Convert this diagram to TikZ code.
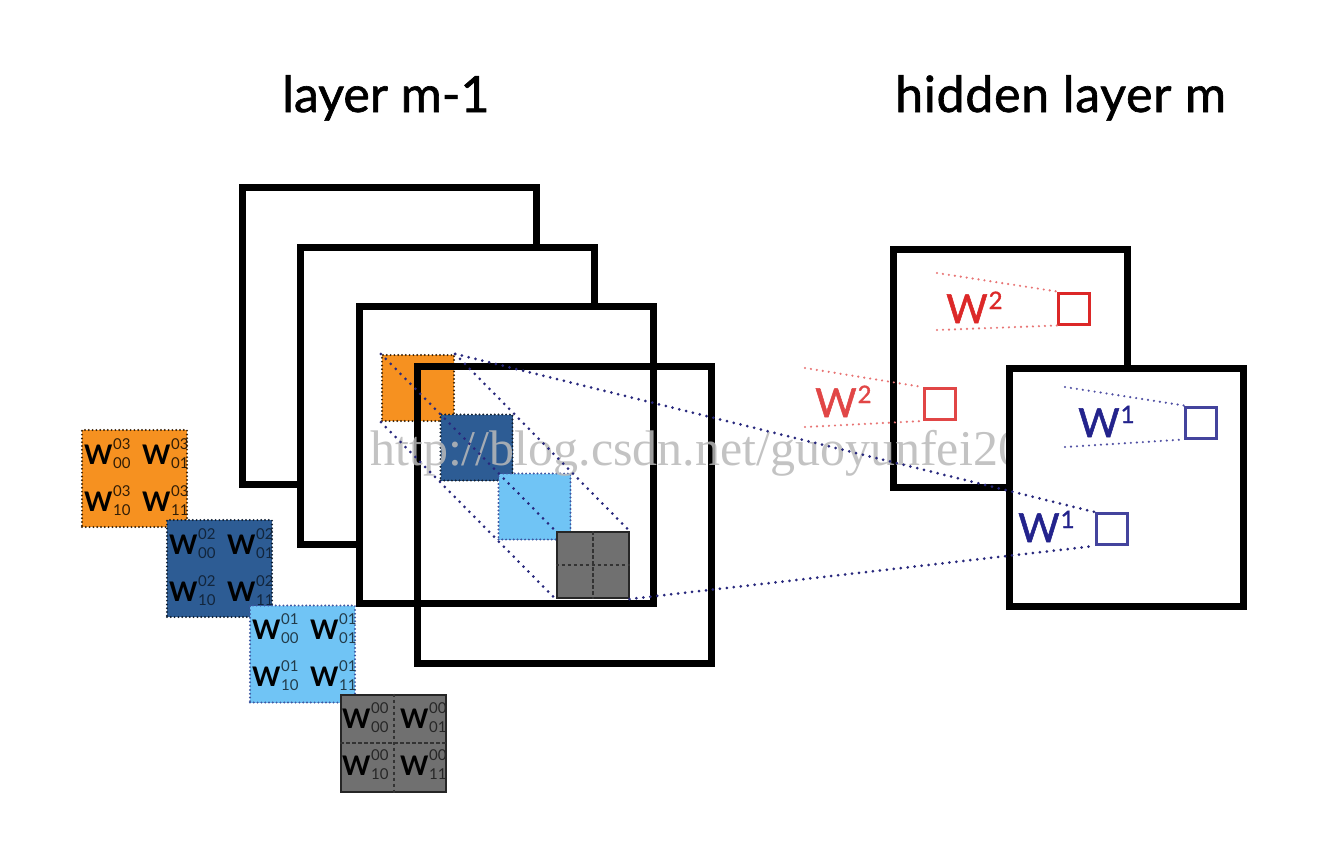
\documentclass[tikz,border=0pt]{standalone}
\usepackage{fontspec}
\setmainfont{Lato}
\newfontfamily\titlefont{Lato}[FakeBold=1.3]
\newfontfamily\wbold{Lato Bold}
\newfontfamily\wmfont{Liberation Serif}
\definecolor{orng}{RGB}{246,145,32}
\definecolor{dblue}{RGB}{45,92,148}
\definecolor{lblue}{RGB}{112,196,245}
\definecolor{gry}{RGB}{112,112,112}
\definecolor{navy}{RGB}{40,40,125}
\definecolor{wred}{RGB}{220,40,40}
\definecolor{wredl}{RGB}{225,70,70}
\definecolor{wblue}{RGB}{35,35,140}
\definecolor{wmark}{RGB}{185,185,185}
\newcommand\wl[3]{\textcolor{black}{\wbold W}\kern0.5pt\rlap{\raisebox{15pt}{\textcolor{#3}{\fontsize{15}{15}\selectfont #1}}}\raisebox{-4pt}{\textcolor{#3}{\fontsize{15}{15}\selectfont #2}}}
\newcommand\wup[1]{W\kern1pt\raisebox{14pt}{\fontsize{24}{24}\selectfont #1}}
\begin{document}
\begin{tikzpicture}[x=1pt,y=-1pt,
  frame/.style={draw=black,line width=7pt,minimum width=294pt,minimum height=297pt,inner sep=0pt,fill=white},
  openframe/.style={frame,fill=none},
  rframe/.style={draw=black,line width=7pt,minimum width=234pt,minimum height=238pt,inner sep=0pt,fill=white},
  sqborder/.style={line width=2.2pt,line cap=round,dash pattern=on 0pt off 3.8pt},
  minisq/.style={minimum width=72pt,minimum height=66pt,inner sep=0pt,sqborder},
  wsq/.style={minimum width=105pt,minimum height=97pt,inner sep=0pt,sqborder},
  wtxt/.style={anchor=base west,inner sep=0pt,font=\fontsize{27}{27}\selectfont},
  link/.style={draw=navy,line width=3pt,line cap=round,dash pattern=on 0pt off 7pt},
  redlink/.style={draw=wred!65,line width=2.4pt,line cap=round,dash pattern=on 0pt off 6pt},
  bluelink/.style={draw=wblue!80,line width=2.4pt,line cap=round,dash pattern=on 0pt off 6pt},
  unitsq/.style={draw,line width=3pt,minimum width=31pt,minimum height=31pt,inner sep=0pt},
  title/.style={anchor=base west,inner sep=0pt,font=\titlefont\fontsize{50}{50}\selectfont},
  wlab/.style={anchor=base west,inner sep=0pt,font=\titlefont\fontsize{40}{40}\selectfont},
  grid/.style={draw=black!80,line width=2pt,dash pattern=on 3.5pt off 2.5pt}]
\useasboundingbox (0,0) rectangle (1324,860);
\fill[white] (0,0) rectangle (1324,860);
% titles
\node[title] (t1) at (282,112) {layer m-1};
\node[title] (t2) at (895,112) {\addfontfeature{LetterSpace=1.5}hidden layer m};
% left stacked feature maps
\node[frame] (F1) at (389,336) {};
\node[frame] (F2) at (447,396) {};
\node[frame] (F3) at (506,455) {};
% receptive field squares
\node[minisq,fill=orng,draw=orng!25!black] (O) at (418,388) {};
\node[minisq,fill=dblue,draw=dblue!35!black] (B) at (476.5,447.5) {};
\node[minisq,fill=lblue,draw=lblue!30!navy] (L) at (534.5,506.5) {};
\node[minisq,fill=gry,draw=black!85,solid,line width=2pt] (G) at (592.5,565) {};
\draw[grid] (G.north) -- (G.south);
\draw[grid] (G.west) -- (G.east);
\node[openframe] (F4) at (564,515) {};
% weight squares
\node[wsq,fill=orng,draw=orng!25!black] (WO) at (134.5,478.5) {};
\node[wsq,fill=dblue,draw=dblue!35!black] (WB) at (219.5,568.5) {};
\node[wsq,fill=lblue,draw=lblue!30!navy] (WL) at (302.5,654) {};
\node[wsq,fill=gry,draw=black!85,solid,line width=2pt] (WG) at (393.5,743) {};
\draw[grid] (WG.north) -- (WG.south);
\draw[grid] (WG.west) -- (WG.east);
\node[wtxt] (o1) at (84,464) {\wl{03}{00}{orng!20!black}};
\node[wtxt] (o2) at (142,464) {\wl{03}{01}{orng!20!black}};
\node[wtxt] (o3) at (84,511) {\wl{03}{10}{orng!20!black}};
\node[wtxt] (o4) at (142,511) {\wl{03}{11}{orng!20!black}};
\node[wtxt] (b1) at (169,554) {\wl{02}{00}{dblue!40!black}};
\node[wtxt] (b2) at (227,554) {\wl{02}{01}{dblue!40!black}};
\node[wtxt] (b3) at (169,601) {\wl{02}{10}{dblue!40!black}};
\node[wtxt] (b4) at (227,601) {\wl{02}{11}{dblue!40!black}};
\node[wtxt] (l1) at (252,639) {\wl{01}{00}{lblue!30!black}};
\node[wtxt] (l2) at (310,639) {\wl{01}{01}{lblue!30!black}};
\node[wtxt] (l3) at (252,686) {\wl{01}{10}{lblue!30!black}};
\node[wtxt] (l4) at (310,686) {\wl{01}{11}{lblue!30!black}};
\node[wtxt] (g1) at (342,728) {\wl{00}{00}{black!85}};
\node[wtxt] (g2) at (400,728) {\wl{00}{01}{black!85}};
\node[wtxt] (g3) at (342,775) {\wl{00}{10}{black!85}};
\node[wtxt] (g4) at (400,775) {\wl{00}{11}{black!85}};
% hidden layer maps
\node[rframe] (R1) at (1010,368.5) {};
% watermark
\node[anchor=base west,inner sep=0pt,text=wmark,opacity=0.85,font=\wmfont\fontsize{50}{50}\selectfont] (wm) at (370,465) {http://blog.csdn.net/guoyunfei20};
\node[rframe] (R2) at (1126.5,487.5) {};
% receptive field lines
\draw[link] (O.north west) -- (G.north west);
\draw[link] (O.south west) -- (G.south west);
\draw[link] (O.north east) -- (G.north east);
% hidden units
\node[unitsq,draw=wred] (S2a) at (1074,308.5) {};
\node[unitsq,draw=wredl] (S2b) at (939.5,404) {};
\node[unitsq,draw=wblue!85] (S1a) at (1201,422.5) {};
\node[unitsq,draw=wblue!85] (S1b) at (1111.5,529) {};
\coordinate (a1) at (937,273);
\coordinate (a2) at (937,330);
\coordinate (b1c) at (805,368);
\coordinate (b2c) at (805,427);
\coordinate (c1) at (1065,387);
\coordinate (c2) at (1065,447);
\draw[redlink] (a1) -- (S2a.north west);
\draw[redlink] (a2) -- (S2a.south west);
\draw[redlink] (b1c) -- (S2b.north west);
\draw[redlink] (b2c) -- (S2b.south west);
\draw[bluelink] (c1) -- (S1a.north west);
\draw[bluelink] (c2) -- (S1a.south west);
\draw[link] (O.north east) -- (S1b.north west);
\draw[link] (G.south east) -- (S1b.south west);
% labels
\node[wlab,text=wred] (w2a) at (946,323) {\wup{2}};
\node[wlab,text=wredl] (w2b) at (815,417) {\wup{2}};
\node[wlab,text=wblue] (w1a) at (1078,437) {\wup{1}};
\node[wlab,text=wblue] (w1b) at (1018,542) {\wup{1}};
\end{tikzpicture}
\end{document}
